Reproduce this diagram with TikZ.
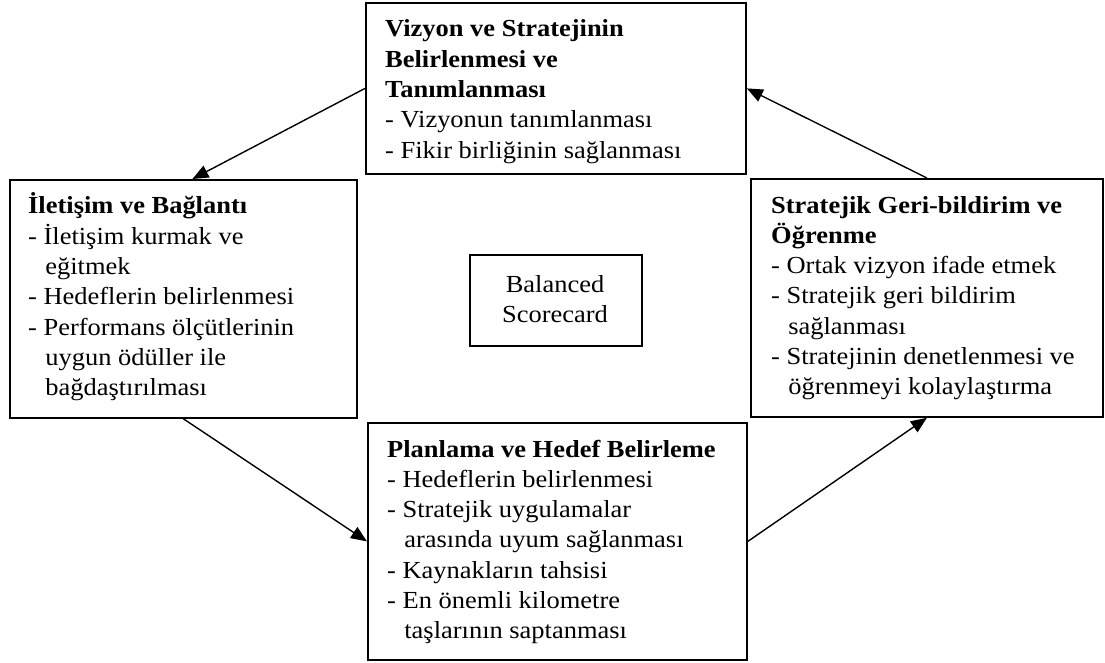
\documentclass[tikz,border=0pt]{standalone}
\usepackage{fontspec}
\setmainfont{Liberation Serif}[FakeStretch=1.08]
\usetikzlibrary{arrows.meta}
\newcommand{\ind}{\hspace*{0.7em}}
\begin{document}
\begin{tikzpicture}[x=1pt,y=-1pt,
  box/.style={draw, line width=1.8pt, inner sep=0pt, anchor=north west},
  txt/.style={anchor=base west, inner sep=0pt, font=\fontsize{24.5}{30.3}\selectfont},
  link/.style={line width=1.4pt, -{Triangle[length=16pt,width=13pt]}}]
\useasboundingbox (0,0) rectangle (1105,663);

% frames of the five parts of the cycle
\node[box, minimum width=380pt, minimum height=171pt] (T) at (365,2) {};
\node[box, minimum width=347pt, minimum height=238pt] (L) at (9,179) {};
\node[box, minimum width=172pt, minimum height=91pt]  (C) at (469,254) {};
\node[box, minimum width=352pt, minimum height=238pt] (R) at (750,178) {};
\node[box, minimum width=379pt, minimum height=237pt] (B) at (367,422) {};

% contents
\node[txt] (Tt) at (385,37) {\begin{tabular}[t]{@{}l@{}}
  \textbf{Vizyon ve Stratejinin}\\
  \textbf{Belirlenmesi ve}\\
  \textbf{Tanımlanması}\\
  - Vizyonun tanımlanması\\
  - Fikir birliğinin sağlanması
\end{tabular}};

\node[txt] (Lt) at (28,214) {\begin{tabular}[t]{@{}l@{}}
  \textbf{İletişim ve Bağlantı}\\
  - İletişim kurmak ve\\
  \ind eğitmek\\
  - Hedeflerin belirlenmesi\\
  - Performans ölçütlerinin\\
  \ind uygun ödüller ile\\
  \ind bağdaştırılması
\end{tabular}};

\node[txt, anchor=base] (Ct) at (555,292) {\begin{tabular}[t]{@{}c@{}}
  Balanced\\
  Scorecard
\end{tabular}};

\node[txt] (Rt) at (771,213) {\begin{tabular}[t]{@{}l@{}}
  \textbf{Stratejik Geri-bildirim ve}\\
  \textbf{Öğrenme}\\
  - Ortak vizyon ifade etmek\\
  - Stratejik geri bildirim\\
  \ind sağlanması\\
  - Stratejinin denetlenmesi ve\\
  \ind öğrenmeyi kolaylaştırma
\end{tabular}};

\node[txt] (Bt) at (387,457) {\begin{tabular}[t]{@{}l@{}}
  \textbf{Planlama ve Hedef Belirleme}\\
  - Hedeflerin belirlenmesi\\
  - Stratejik uygulamalar\\
  \ind arasında uyum sağlanması\\
  - Kaynakların tahsisi\\
  - En önemli kilometre\\
  \ind taşlarının saptanması
\end{tabular}};

% the cycle
\draw[link] (T.west) -- ([xshift=9pt]L.north);
\draw[link] (L.south) -- (B.west);
\draw[link] (B.east) -- (R.south);
\draw[link] (R.north) -- (T.east);
\end{tikzpicture}
\end{document}
